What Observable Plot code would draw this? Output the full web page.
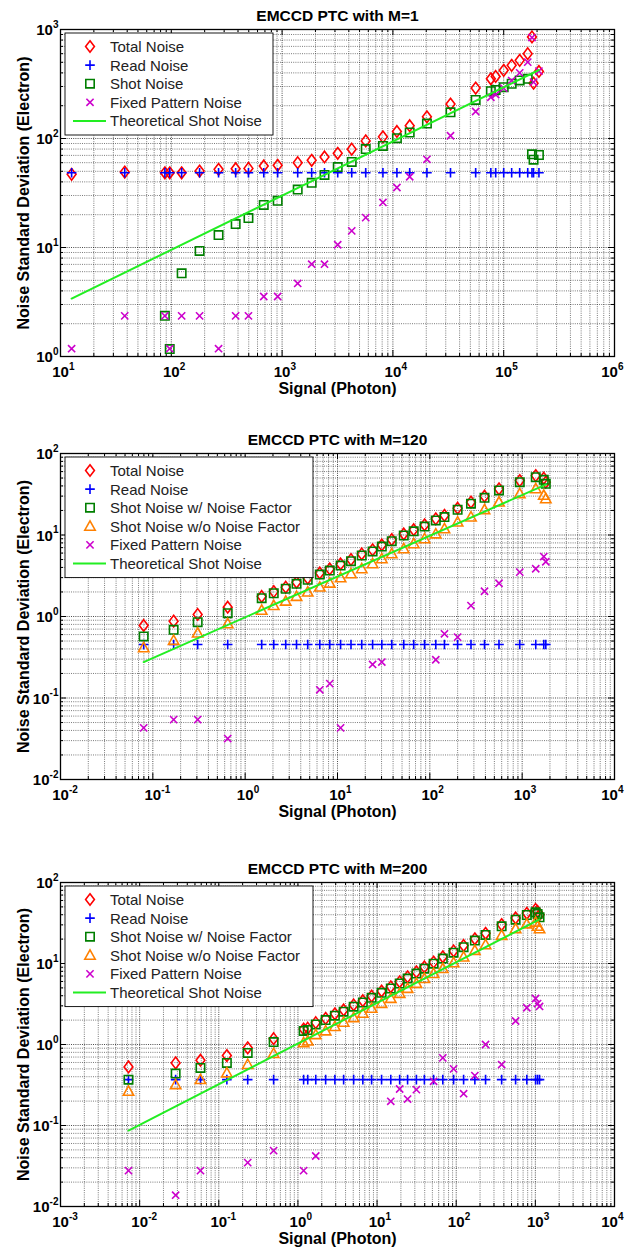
<!DOCTYPE html>
<html><head><meta charset="utf-8">
<script src="https://cdn.jsdelivr.net/npm/d3@7"></script>
<script src="https://cdn.jsdelivr.net/npm/@observablehq/plot@0.6"></script>
<style>
body{margin:0;background:#fff;}
#chart svg{display:block;}
</style></head><body><div id="chart"></div>
<script>
// ---------- Panel 1: M=1 ----------
const p1Title = "EMCCD PTC with M=1";
const p1Signal = [12.6, 38, 87.5, 96.8, 124, 180, 267, 381, 497, 683, 912, 1383, 1849, 2414, 3177, 4250, 5684, 8128, 10870, 14180, 20280, 33110, 55850, 76560, 84660, 100000, 118000, 139400, 164800, 180000, 186000, 208000];
const p1Total = [46.9, 49.2, 48.5, 48.5, 48.5, 50.3, 52.1, 52.8, 53.2, 56.0, 56.8, 60.0, 63.1, 67.7, 73.2, 79.8, 95.1, 103.5, 116, 131, 158, 207, 290, 353, 371, 422, 469, 521, 600, 855, 322, 412];
const p1Read = [48.5, 48.5, 48.5, 48.5, 48.5, 48.5, 48.5, 48.5, 48.5, 48.5, 48.5, 48.5, 48.5, 48.5, 48.5, 48.5, 48.5, 48.5, 48.5, 48.5, 48.5, 48.5, 48.5, 48.5, 48.5, 48.5, 48.5, 48.5, 48.5, 48.5, 48.5, 48.5];
const p1Shot = [null, null, 2.36, 1.17, 5.8, 9.3, 13.0, 16.4, 18.6, 24.6, 26.8, 34.0, 39.2, 46.3, 54.7, 61.0, 80.0, 85.5, 100.7, 113.5, 137, 174, 226, 272, 279, 296, 318, 341, 353, 71.6, 64.0, 70.6];
const p1Fpn = [1.18, 2.36, 2.36, 1.18, 2.36, 2.36, 1.18, 2.36, 2.36, 3.55, 3.55, 4.68, 7.03, 7.03, 10.6, 14.2, 18.8, 25.9, 35.5, 44.6, 64.4, 106, 177, 239, 253, 290, 340, 400, 502, 843, 329, 415];
const p1TheoryX = [12.6, 208000];
const p1TheoryY = [3.4, 425];
const p1XTicks = [1e1, 1e2, 1e3, 1e4, 1e5, 1e6];
const p1XExp = ["1", "2", "3", "4", "5", "6"];
const p1YTicks = [1e0, 1e1, 1e2, 1e3];
const p1YExp = ["0", "1", "2", "3"];

// ---------- Panel 2: M=120 ----------
const p2Title = "EMCCD PTC with M=120";
const p2Signal = [0.0796, 0.168, 0.306, 0.647, 1.51, 2.04, 2.75, 3.60, 4.76, 6.43, 8.25, 10.8, 14.0, 18.3, 24.0, 30.2, 38.7, 52.2, 66.9, 87.7, 116, 144, 200, 279, 391, 561, 942, 1403, 1714, 1803];
const p2Total = [0.776, 0.877, 1.06, 1.30, 1.76, 2.02, 2.29, 2.63, 2.95, 3.42, 3.83, 4.41, 4.99, 5.86, 6.57, 7.55, 8.77, 10.3, 11.6, 13.3, 15.8, 17.4, 21.3, 25.3, 29.9, 36.8, 46.5, 53.5, 49.8, 44.4];
const p2Read = [0.454, 0.454, 0.454, 0.454, 0.454, 0.454, 0.454, 0.454, 0.454, 0.454, 0.454, 0.454, 0.454, 0.454, 0.454, 0.454, 0.454, 0.454, 0.454, 0.454, 0.454, 0.454, 0.454, 0.454, 0.454, 0.454, 0.454, 0.454, 0.454, 0.454];
const p2ShotNF = [0.569, 0.687, 0.852, 1.10, 1.68, 1.93, 2.19, 2.52, 2.82, 3.27, 3.66, 4.22, 4.77, 5.60, 6.28, 7.22, 8.39, 9.86, 11.1, 12.7, 15.1, 16.6, 20.4, 24.2, 28.6, 35.2, 44.5, 51.2, 47.6, 42.5];
const p2Shot = [0.413, 0.508, 0.625, 0.813, 1.19, 1.36, 1.54, 1.76, 1.99, 2.29, 2.56, 2.98, 3.34, 3.85, 4.43, 5.10, 5.87, 6.76, 7.80, 8.98, 10.3, 11.9, 14.4, 16.6, 20.4, 25.3, 32.1, 36.9, 30.6, 27.8];
const p2Fpn = [0.043, 0.0543, 0.0543, 0.0318, null, null, null, null, null, 0.126, 0.150, 0.043, null, null, 0.258, 0.276, null, null, null, null, 0.295, 0.613, 0.558, 1.36, 2.04, 2.56, 3.50, 3.85, 5.44, 4.70];
const p2TheoryX = [0.0796, 1803];
const p2TheoryY = [0.276, 41.6];
const p2XTicks = [1e-2, 1e-1, 1e0, 1e1, 1e2, 1e3, 1e4];
const p2XExp = ["-2", "-1", "0", "1", "2", "3", "4"];
const p2YTicks = [1e-2, 1e-1, 1e0, 1e1, 1e2];
const p2YExp = ["-2", "-1", "0", "1", "2"];

// ---------- Panel 3: M=200 ----------
const p3Title = "EMCCD PTC with M=200";
const p3Signal = [0.00723, 0.0285, 0.0587, 0.1265, 0.232, 0.493, 1.18, 1.33, 1.68, 2.24, 2.93, 3.78, 5.06, 6.61, 8.53, 11.4, 14.9, 19.3, 24.3, 31.4, 39.6, 51.8, 67.7, 92.7, 124, 172, 235, 375, 563, 780, 1007, 1067, 1130];
const p3Total = [0.529, 0.593, 0.640, 0.731, 0.910, 1.18, 1.55, 1.59, 1.86, 2.10, 2.39, 2.67, 3.08, 3.47, 3.96, 4.57, 5.16, 5.95, 6.85, 7.88, 9.07, 10.4, 12.1, 14.3, 16.7, 20.2, 23.6, 30.2, 36.5, 41.7, 46.5, 43.9, 40.0];
const p3Read = [0.368, 0.368, 0.368, 0.368, 0.368, 0.368, 0.368, 0.368, 0.368, 0.368, 0.368, 0.368, 0.368, 0.368, 0.368, 0.368, 0.368, 0.368, 0.368, 0.368, 0.368, 0.368, 0.368, 0.368, 0.368, 0.368, 0.368, 0.368, 0.368, 0.368, 0.368, 0.368, 0.368];
const p3ShotNF = [0.368, 0.437, 0.514, 0.593, 0.788, 1.07, 1.47, 1.51, 1.77, 2.00, 2.27, 2.54, 2.93, 3.30, 3.77, 4.35, 4.91, 5.66, 6.52, 7.50, 8.64, 9.95, 11.5, 13.6, 15.9, 19.2, 22.5, 28.8, 34.8, 39.7, 42.8, 40.9, 37.2];
const p3Shot = [0.264, 0.319, 0.368, 0.445, 0.565, 0.773, 1.05, 1.10, 1.32, 1.47, 1.66, 1.88, 2.14, 2.42, 2.79, 3.21, 3.70, 4.26, 4.91, 5.66, 6.52, 7.50, 8.64, 10.2, 12.0, 14.5, 17.0, 22.2, 26.8, 30.8, 32.3, 28.8, 26.8];
const p3Fpn = [0.0277, 0.0138, 0.0277, null, 0.0348, 0.049, 0.0277, null, 0.042, null, null, null, null, null, null, null, 0.199, 0.282, 0.212, 0.277, null, 0.351, 0.684, 0.500, 0.247, 0.413, 1.00, 0.565, 1.95, 2.84, 3.70, 3.20, 2.95];
const p3TheoryX = [0.00723, 1130];
const p3TheoryY = [0.0867, 35];
const p3XTicks = [1e-3, 1e-2, 1e-1, 1e0, 1e1, 1e2, 1e3, 1e4];
const p3XExp = ["-3", "-2", "-1", "0", "1", "2", "3", "4"];
const p3YTicks = [1e-2, 1e-1, 1e0, 1e1, 1e2];
const p3YExp = ["-2", "-1", "0", "1", "2"];

// ---------- shared text ----------
const xLabel = "Signal (Photon)";
const yLabel = "Noise Standard Deviation (Electron)";
const labTotal = "Total Noise", labRead = "Read Noise", labShot1 = "Shot Noise",
      labShotNF = "Shot Noise w/ Noise Factor", labShotNo = "Shot Noise w/o Noise Factor",
      labFpn = "Fixed Pattern Noise", labTheory = "Theoretical Shot Noise";

// ---------- styles ----------
const FONT = "'Liberation Sans', Arial, Helvetica, sans-serif";
const W = 625, ML = 60, MR = 11;
const cTotal = "#ff0000", cRead = "#0000ff", cShot = "#007f00", cShotNo = "#ff8000", cFpn = "#cc00cc", cTheory = "#22ee22";

const symDiamond = {draw(c){c.moveTo(0,-5.8);c.lineTo(4.4,0);c.lineTo(0,5.8);c.lineTo(-4.4,0);c.closePath();}};
const symPlus = {draw(c){c.moveTo(-4.8,0);c.lineTo(4.8,0);c.moveTo(0,-4.8);c.lineTo(0,4.8);}};
const symSquare = {draw(c){c.moveTo(-4.2,-4.2);c.lineTo(4.2,-4.2);c.lineTo(4.2,4.2);c.lineTo(-4.2,4.2);c.closePath();}};
const symTriangle = {draw(c){c.moveTo(0,-5.4);c.lineTo(5.2,3.9);c.lineTo(-5.2,3.9);c.closePath();}};
const symTimes = {draw(c){c.moveTo(-3.6,-3.6);c.lineTo(3.6,3.6);c.moveTo(-3.6,3.6);c.lineTo(3.6,-3.6);}};

function rows(xs, ys) {
  return xs.map((x, i) => ({x, y: ys[i]})).filter(d => d.y != null);
}
function minorGrid(ticks) {
  const out = [];
  for (let i = 0; i < ticks.length - 1; i++) for (let k = 2; k <= 9; k++) out.push(ticks[i] * k);
  return out;
}
function expWidth(e) { return e.length * 5.6 - (e.startsWith("-") ? 2.2 : 0); }

function panel(cfg) {
  const {height, marginTop, marginBottom, xTicks, xExp, yTicks, yExp, title, series, theory} = cfg;
  const plotW = W - ML - MR, plotH = height - marginTop - marginBottom;
  const gridStyle = {stroke: "#000", strokeWidth: 0.7, strokeDasharray: "1,1.2"};
  const tk = {stroke: "#000", strokeWidth: 1};
  const xMaj = xTicks.slice(1, -1), yMaj = yTicks.slice(1, -1);
  const xMin = minorGrid(xTicks), yMin = minorGrid(yTicks);
  const marks = [
    Plot.ruleX(xMin, {x: d => d, ...gridStyle, strokeOpacity: 0.75}),
    Plot.ruleY(yMin, {y: d => d, ...gridStyle, strokeOpacity: 0.75}),
    Plot.ruleX(xMaj, {x: d => d, ...gridStyle, strokeOpacity: 1}),
    Plot.ruleY(yMaj, {y: d => d, ...gridStyle, strokeOpacity: 1}),
    Plot.tickX(xMaj, {x: d => d, insetTop: plotH - 6, ...tk}),
    Plot.tickX(xMaj, {x: d => d, insetBottom: plotH - 6, ...tk}),
    Plot.tickX(xMin, {x: d => d, insetTop: plotH - 3, ...tk}),
    Plot.tickX(xMin, {x: d => d, insetBottom: plotH - 3, ...tk}),
    Plot.tickY(yMaj, {y: d => d, insetRight: plotW - 6, ...tk}),
    Plot.tickY(yMaj, {y: d => d, insetLeft: plotW - 6, ...tk}),
    Plot.tickY(yMin, {y: d => d, insetRight: plotW - 3, ...tk}),
    Plot.tickY(yMin, {y: d => d, insetLeft: plotW - 3, ...tk})
  ];
  for (const s of series) {
    marks.push(Plot.dot(s.data, {x: "x", y: "y", symbol: s.symbol, stroke: s.color, fill: "none", strokeWidth: 1.6}));
  }
  marks.push(Plot.line(theory, {x: "x", y: "y", stroke: cTheory, strokeWidth: 2}));
  marks.push(Plot.frame({stroke: "#000", strokeWidth: 1.3}));
  // tick labels ("10" with superscript exponent)
  xTicks.forEach((t, i) => {
    const shift = i === xTicks.length - 1 ? -5 : 0;
    marks.push(Plot.text([t], {x: d => d, frameAnchor: "bottom", text: () => "10", dx: shift, dy: 20, lineAnchor: "bottom", textAnchor: "middle", fontSize: 15, fontWeight: "bold"}));
    marks.push(Plot.text([t], {x: d => d, frameAnchor: "bottom", text: () => xExp[i], dx: 8.5 + shift, dy: 13, lineAnchor: "bottom", textAnchor: "start", fontSize: 10, fontWeight: "bold"}));
  });
  yTicks.forEach((t, i) => {
    marks.push(Plot.text([t], {y: d => d, frameAnchor: "left", text: () => "10", dx: -2 - expWidth(yExp[i]), dy: 1, lineAnchor: "middle", textAnchor: "end", fontSize: 15, fontWeight: "bold"}));
    marks.push(Plot.text([t], {y: d => d, frameAnchor: "left", text: () => yExp[i], dx: -2, dy: -2, lineAnchor: "bottom", textAnchor: "end", fontSize: 10, fontWeight: "bold"}));
  });
  marks.push(Plot.text([title], {frameAnchor: "top", text: d => d, dy: -9, lineAnchor: "bottom", textAnchor: "middle", fontSize: 15.5, fontWeight: "bold"}));
  marks.push(Plot.text([xLabel], {frameAnchor: "bottom", text: d => d, dy: 37, lineAnchor: "bottom", textAnchor: "middle", fontSize: 16, fontWeight: "bold"}));
  marks.push(Plot.text([yLabel], {frameAnchor: "left", text: d => d, dx: -32, rotate: -90, lineAnchor: "bottom", textAnchor: "middle", fontSize: 16, fontWeight: "bold"}));

  const svg = Plot.plot({
    width: W, height, marginLeft: ML, marginRight: MR, marginTop, marginBottom,
    style: {fontFamily: FONT, background: "#fff", color: "#000", overflow: "visible"},
    x: {type: "log", domain: [xTicks[0], xTicks[xTicks.length - 1]], axis: null},
    y: {type: "log", domain: [yTicks[0], yTicks[yTicks.length - 1]], axis: null},
    marks
  });
  // legend
  const L = cfg.legend;
  const g = d3.select(svg).append("g").attr("font-family", FONT).attr("font-size", 15).attr("text-anchor", "start");
  const n = L.entries.length;
  g.append("rect").attr("x", 65).attr("y", 33).attr("width", L.w).attr("height", 13 + n * 18.6 - 4)
    .attr("fill", "#fff").attr("stroke", "#000").attr("stroke-width", 0.9);
  L.entries.forEach((e, i) => {
    const cy = 46.5 + i * 18.6;
    if (e.symbol) {
      const p = d3.path(); e.symbol.draw(p, 0);
      g.append("path").attr("d", p.toString()).attr("transform", `translate(90,${cy})`)
        .attr("fill", "none").attr("stroke", e.color).attr("stroke-width", 1.6);
    } else {
      g.append("line").attr("x1", 73).attr("x2", 106).attr("y1", cy).attr("y2", cy)
        .attr("stroke", e.color).attr("stroke-width", 2);
    }
    g.append("text").attr("x", 110).attr("y", cy).attr("dy", "0.36em").attr("text-anchor", "start").attr("fill", "#222").text(e.label);
  });
  return svg;
}

const root = document.getElementById("chart");
root.appendChild(panel({
  height: 424, marginTop: 29, marginBottom: 68, title: p1Title,
  xTicks: p1XTicks, xExp: p1XExp, yTicks: p1YTicks, yExp: p1YExp,
  series: [
    {data: rows(p1Signal, p1Total), symbol: symDiamond, color: cTotal},
    {data: rows(p1Signal, p1Read), symbol: symPlus, color: cRead},
    {data: rows(p1Signal, p1Shot), symbol: symSquare, color: cShot},
    {data: rows(p1Signal, p1Fpn), symbol: symTimes, color: cFpn}
  ],
  theory: rows(p1TheoryX, p1TheoryY),
  legend: {w: 208, entries: [
    {label: labTotal, symbol: symDiamond, color: cTotal},
    {label: labRead, symbol: symPlus, color: cRead},
    {label: labShot1, symbol: symSquare, color: cShot},
    {label: labFpn, symbol: symTimes, color: cFpn},
    {label: labTheory, color: cTheory}
  ]}
}));
root.appendChild(panel({
  height: 429, marginTop: 29, marginBottom: 74, title: p2Title,
  xTicks: p2XTicks, xExp: p2XExp, yTicks: p2YTicks, yExp: p2YExp,
  series: [
    {data: rows(p2Signal, p2Total), symbol: symDiamond, color: cTotal},
    {data: rows(p2Signal, p2Read), symbol: symPlus, color: cRead},
    {data: rows(p2Signal, p2ShotNF), symbol: symSquare, color: cShot},
    {data: rows(p2Signal, p2Shot), symbol: symTriangle, color: cShotNo},
    {data: rows(p2Signal, p2Fpn), symbol: symTimes, color: cFpn}
  ],
  theory: rows(p2TheoryX, p2TheoryY),
  legend: {w: 248, entries: [
    {label: labTotal, symbol: symDiamond, color: cTotal},
    {label: labRead, symbol: symPlus, color: cRead},
    {label: labShotNF, symbol: symSquare, color: cShot},
    {label: labShotNo, symbol: symTriangle, color: cShotNo},
    {label: labFpn, symbol: symTimes, color: cFpn},
    {label: labTheory, color: cTheory}
  ]}
}));
root.appendChild(panel({
  height: 400, marginTop: 29, marginBottom: 47, title: p3Title,
  xTicks: p3XTicks, xExp: p3XExp, yTicks: p3YTicks, yExp: p3YExp,
  series: [
    {data: rows(p3Signal, p3Total), symbol: symDiamond, color: cTotal},
    {data: rows(p3Signal, p3Read), symbol: symPlus, color: cRead},
    {data: rows(p3Signal, p3ShotNF), symbol: symSquare, color: cShot},
    {data: rows(p3Signal, p3Shot), symbol: symTriangle, color: cShotNo},
    {data: rows(p3Signal, p3Fpn), symbol: symTimes, color: cFpn}
  ],
  theory: rows(p3TheoryX, p3TheoryY),
  legend: {w: 248, entries: [
    {label: labTotal, symbol: symDiamond, color: cTotal},
    {label: labRead, symbol: symPlus, color: cRead},
    {label: labShotNF, symbol: symSquare, color: cShot},
    {label: labShotNo, symbol: symTriangle, color: cShotNo},
    {label: labFpn, symbol: symTimes, color: cFpn},
    {label: labTheory, color: cTheory}
  ]}
}));
</script>
</body></html>
